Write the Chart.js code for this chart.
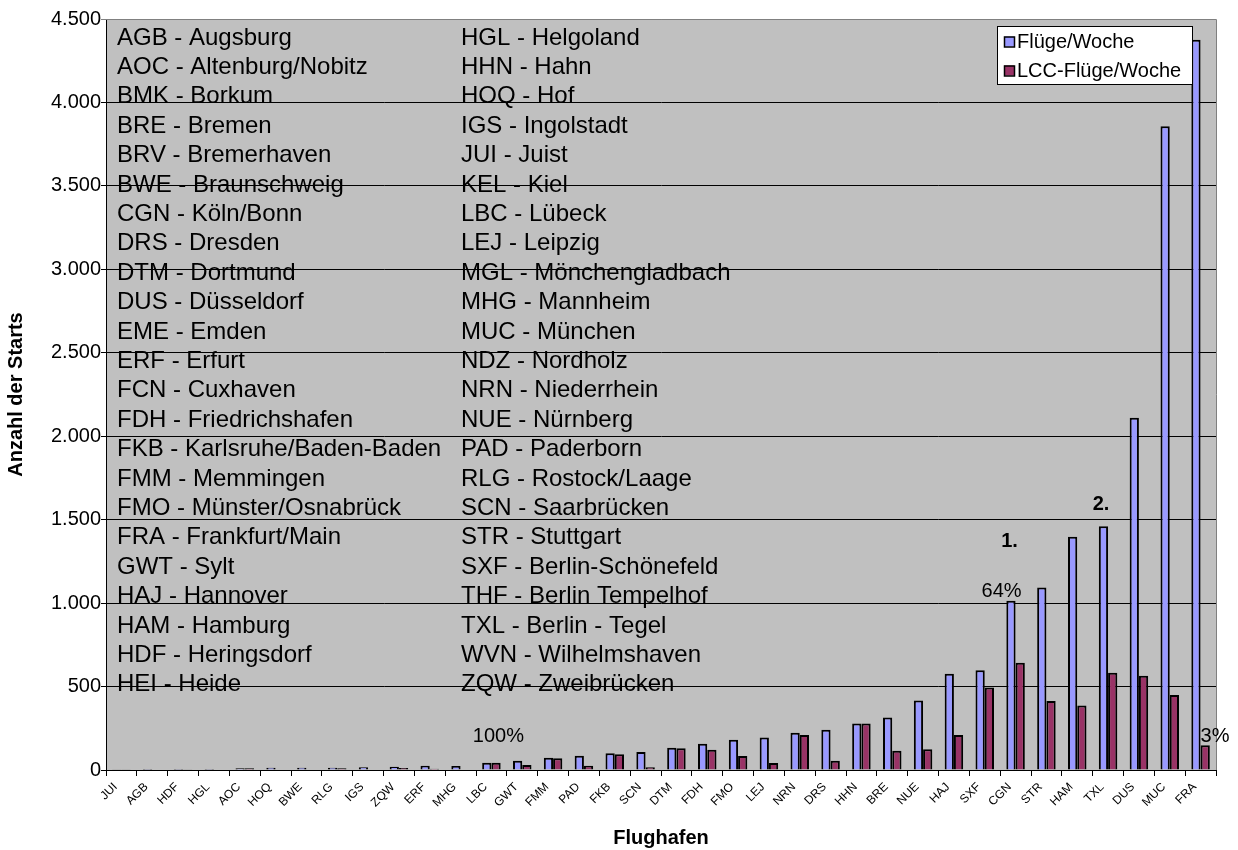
<!DOCTYPE html>
<html>
<head>
<meta charset="utf-8">
<title>Flüge pro Woche</title>
<script src="https://cdn.jsdelivr.net/npm/chart.js@4.4.1/dist/chart.umd.min.js"></script>
<style>
    body { margin: 0; background: #fff; }
    canvas { display: block; }
</style>
</head>
<body>
<canvas id="flightChart" width="1238" height="850"></canvas>
<script>
const airports = ['JUI', 'AGB', 'HDF', 'HGL', 'AOC', 'HOQ', 'BWE', 'RLG', 'IGS', 'ZQW', 'ERF', 'MHG',
    'LBC', 'GWT', 'FMM', 'PAD', 'FKB', 'SCN', 'DTM', 'FDH', 'FMO', 'LEJ', 'NRN', 'DRS',
    'HHN', 'BRE', 'NUE', 'HAJ', 'SXF', 'CGN', 'STR', 'HAM', 'TXL', 'DUS', 'MUC', 'FRA'];
const flightsPerWeek = [4, 6, 6, 6, 10, 14, 14, 14, 17, 20, 26, 24,
    44, 56, 74, 86, 100, 108, 134, 158, 182, 194, 223, 241,
    279, 315, 416, 576, 597, 1014, 1093, 1398, 1460, 2111, 3857, 4375];
const lccFlightsPerWeek = [2, 0, 4, 0, 10, 0, 0, 10, 0, 12, 8, 0,
    44, 30, 70, 26, 94, 16, 130, 122, 84, 42, 209, 56,
    279, 116, 124, 209, 494, 643, 414, 386, 582, 564, 450, 148];
const seriesNames = ['Flüge/Woche', 'LCC-Flüge/Woche'];
const yTicks = { min: 0, max: 4500, step: 500 };

// airport key, printed in two columns inside the plot
const keyColumn1 = ['AGB - Augsburg', 'AOC - Altenburg/Nobitz', 'BMK - Borkum', 'BRE - Bremen',
    'BRV - Bremerhaven', 'BWE - Braunschweig', 'CGN - Köln/Bonn', 'DRS - Dresden',
    'DTM - Dortmund', 'DUS - Düsseldorf', 'EME - Emden', 'ERF - Erfurt', 'FCN - Cuxhaven',
    'FDH - Friedrichshafen', 'FKB - Karlsruhe/Baden-Baden', 'FMM - Memmingen',
    'FMO - Münster/Osnabrück', 'FRA - Frankfurt/Main', 'GWT - Sylt', 'HAJ - Hannover',
    'HAM - Hamburg', 'HDF - Heringsdorf', 'HEI - Heide'];
const keyColumn2 = ['HGL - Helgoland', 'HHN - Hahn', 'HOQ - Hof', 'IGS - Ingolstadt', 'JUI - Juist',
    'KEL - Kiel', 'LBC - Lübeck', 'LEJ - Leipzig', 'MGL - Mönchengladbach', 'MHG - Mannheim',
    'MUC - München', 'NDZ - Nordholz', 'NRN - Niederrhein', 'NUE - Nürnberg', 'PAD - Paderborn',
    'RLG - Rostock/Laage', 'SCN - Saarbrücken', 'STR - Stuttgart', 'SXF - Berlin-Schönefeld',
    'THF - Berlin Tempelhof', 'TXL - Berlin - Tegel', 'WVN - Wilhelmshaven', 'ZQW - Zweibrücken'];

// notes written next to some bars (value = height on the y scale)
const notes = [
    { cat: 'CGN', value: 1372, text: '1.', bold: true },
    { cat: 'TXL', value: 1588, text: '2.', bold: true },
    { cat: 'CGN', value: 1067, text: '64%', bold: false },
    { cat: 'LBC', value: 198, text: '100%', bold: false },
    { cat: 'FRA', value: 198, text: '3%', bold: false }
];

const FONT = 'Liberation Sans, Arial, sans-serif';
const BLUE = '#9999FF';
const PLUM = '#993366';

function germanNumber(v) {
    return String(v).replace(/\B(?=(\d{3})+(?!\d))/g, '.');
}

// grey plot area, key text, notes and the legend box
const plotDecor = {
    id: 'plotDecor',
    beforeDraw(chart) {
        const { ctx, chartArea: a } = chart;
        ctx.save();
        ctx.fillStyle = '#C0C0C0';
        ctx.fillRect(a.left, a.top, a.right - a.left, a.bottom - a.top);
        ctx.restore();
    },
    beforeDatasetsDraw(chart) {
        const { ctx, chartArea: a } = chart;
        ctx.save();
        ctx.fillStyle = '#000';
        ctx.font = '24px ' + FONT;
        ctx.textBaseline = 'middle';
        ctx.textAlign = 'left';
        const rowH = 29.4;
        keyColumn1.forEach((t, i) => ctx.fillText(t, a.left + 11, a.top + 19 + i * rowH));
        keyColumn2.forEach((t, i) => ctx.fillText(t, a.left + 355, a.top + 19 + i * rowH));
        ctx.restore();
    },
    afterDraw(chart) {
        const { ctx, chartArea: a, scales } = chart;
        ctx.save();
        // top and right frame of the plot
        ctx.strokeStyle = '#808080';
        ctx.lineWidth = 1;
        ctx.beginPath();
        ctx.moveTo(a.left, a.top + 0.5);
        ctx.lineTo(a.right + 0.5, a.top + 0.5);
        ctx.lineTo(a.right + 0.5, a.bottom);
        ctx.stroke();

        // notes
        ctx.fillStyle = '#000';
        ctx.textBaseline = 'middle';
        const shift = { '1.': -6, '2.': -7, '64%': -14, '100%': 7, '3%': 0 };
        notes.forEach(n => {
            const x = scales.x.getPixelForValue(airports.indexOf(n.cat));
            const y = scales.y.getPixelForValue(n.value);
            ctx.font = (n.bold ? 'bold ' : '') + '20px ' + FONT;
            ctx.textAlign = n.text === '3%' ? 'left' : 'center';
            ctx.fillText(n.text, x + shift[n.text], y);
        });

        // legend
        const bx = a.right - 219, by = a.top + 7, bw = 195, bh = 58;
        ctx.fillStyle = '#fff';
        ctx.fillRect(bx, by, bw, bh);
        ctx.strokeStyle = '#000';
        ctx.strokeRect(bx + 0.5, by + 0.5, bw, bh);
        ctx.font = '20px ' + FONT;
        ctx.textAlign = 'left';
        chart.data.datasets.forEach((ds, i) => {
            const cy = by + 15.5 + i * 29;
            ctx.fillStyle = ds.backgroundColor;
            ctx.fillRect(bx + 7, cy - 5, 10, 10);
            ctx.lineWidth = 1.5;
            ctx.strokeRect(bx + 7.5, cy - 4.5, 10, 10);
            ctx.fillStyle = '#000';
            ctx.fillText(ds.label, bx + 20, cy + 1);
        });
        ctx.restore();
    }
};

const ctx = document.getElementById('flightChart').getContext('2d');
const chart = new Chart(ctx, {
    type: 'bar',
    data: {
        labels: airports,
        datasets: [
            {
                label: seriesNames[0],
                data: flightsPerWeek,
                backgroundColor: BLUE,
                borderColor: '#000',
                borderWidth: 2
            },
            {
                label: seriesNames[1],
                data: lccFlightsPerWeek,
                backgroundColor: PLUM,
                borderColor: '#000',
                borderWidth: 2
            }
        ]
    },
    options: {
        responsive: false,
        animation: false,
        layout: { padding: { top: 19, right: 22, left: 0, bottom: 0 } },
        datasets: { bar: { categoryPercentage: 0.6, barPercentage: 1 } },
        plugins: {
            legend: { display: false },
            tooltip: { enabled: false }
        },
        scales: {
            x: {
                grid: { drawOnChartArea: false, color: '#000', tickLength: 6 },
                border: { color: '#000', width: 1 },
                ticks: {
                    color: '#000',
                    font: { family: FONT, size: 12 },
                    minRotation: 45,
                    maxRotation: 45,
                    autoSkip: false,
                    padding: 4,
                    labelOffset: -6
                },
                title: {
                    display: true,
                    text: 'Flughafen',
                    color: '#000',
                    font: { family: FONT, size: 20, weight: 'bold' },
                    padding: { top: 0, bottom: 0 }
                },
                afterFit(scale) { scale.height = 80; }
            },
            y: {
                min: yTicks.min,
                max: yTicks.max,
                grid: {
                    color: c => c.tick && c.tick.value === yTicks.max ? '#808080' : '#000',
                    tickLength: 5
                },
                border: { color: '#000', width: 1 },
                ticks: {
                    stepSize: yTicks.step,
                    color: '#000',
                    font: { family: FONT, size: 20 },
                    padding: 0,
                    callback: v => germanNumber(v)
                },
                title: {
                    display: true,
                    text: 'Anzahl der Starts',
                    color: '#000',
                    font: { family: FONT, size: 20, weight: 'bold' },
                    padding: { top: 4, bottom: 4 }
                },
                afterFit(scale) { scale.width = 106; }
            }
        }
    },
    plugins: [plotDecor]
});
</script>
</body>
</html>
